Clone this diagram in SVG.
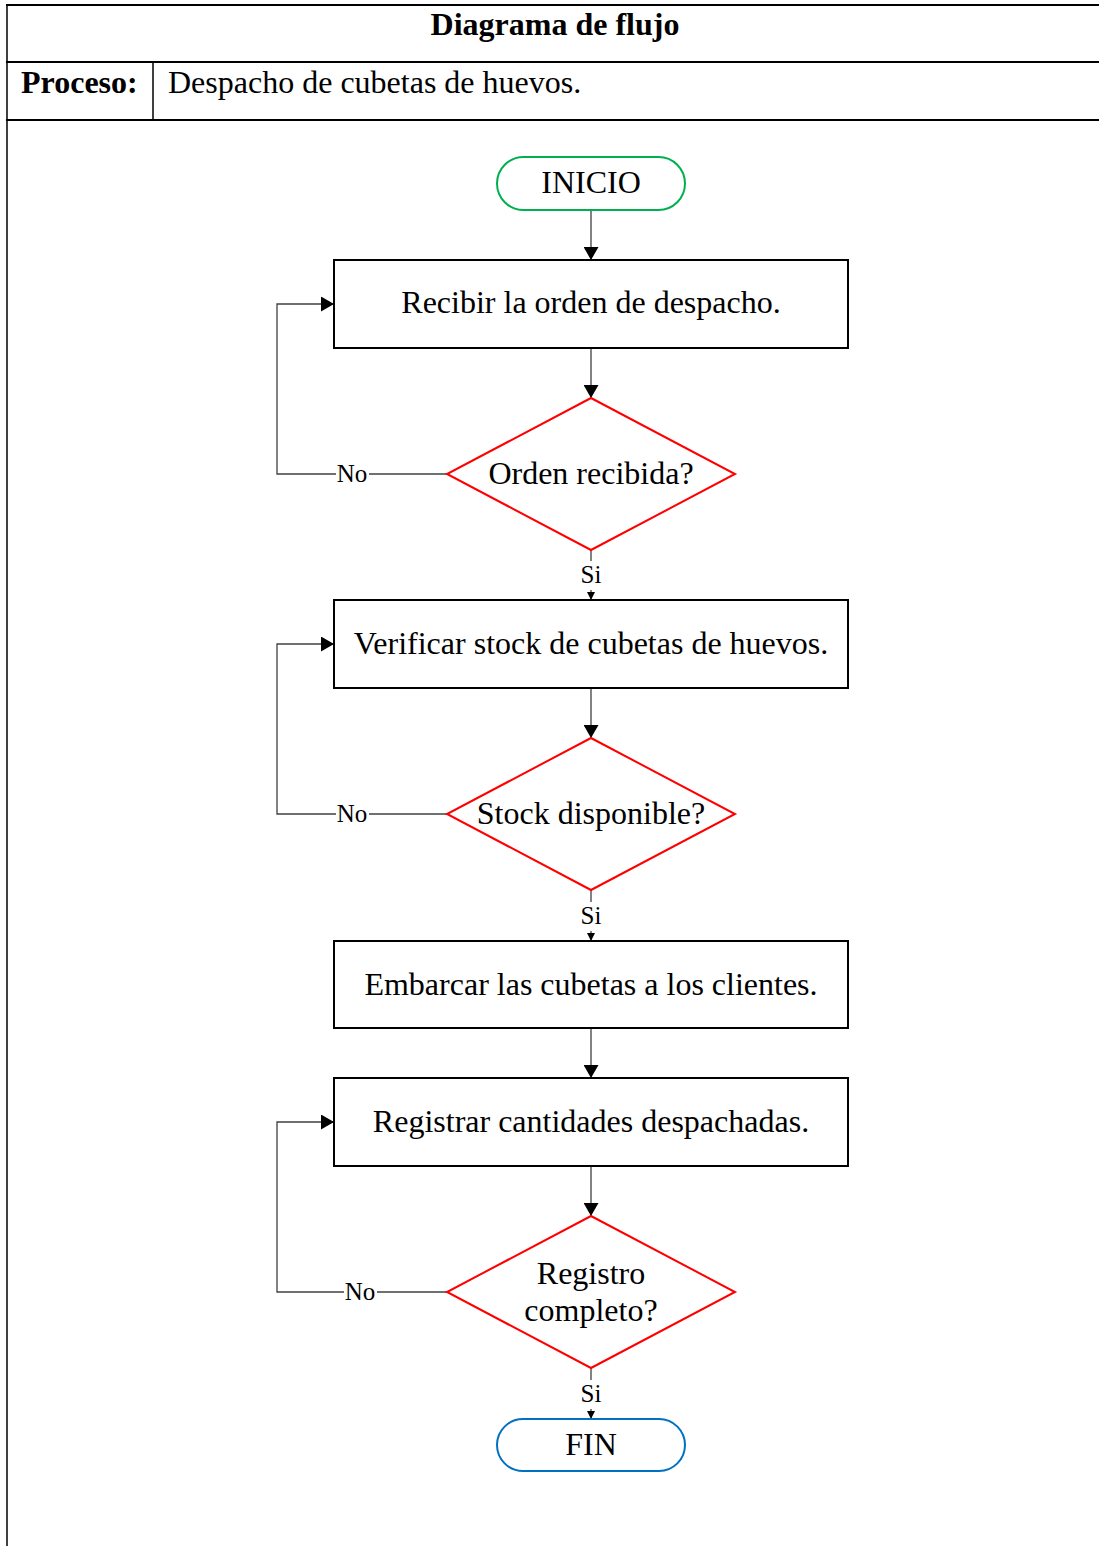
<svg xmlns="http://www.w3.org/2000/svg" width="1099" height="1546" viewBox="0 0 1099 1546">
<style>
.t{font-family:"Liberation Serif","Times New Roman",serif;fill:#000}
.b{font-size:32px;text-anchor:middle}
.h{font-size:32px;font-weight:bold}
.l{font-size:25px;text-anchor:middle}
.box{fill:#fff;stroke:#000;stroke-width:2}
.dia{fill:#fff;stroke:#ff0000;stroke-width:2}
.c{fill:none;stroke:#404040;stroke-width:1.3}
</style>
<defs>
<marker id="a" markerWidth="13" markerHeight="15" refX="13" refY="7.5" orient="auto" markerUnits="userSpaceOnUse"><path d="M0,0 L13,7.5 L0,15 Z" fill="#000"/></marker>
<marker id="s" markerWidth="8" markerHeight="8" refX="8" refY="4" orient="auto" markerUnits="userSpaceOnUse"><path d="M0,0 L8,4 L0,8 Z" fill="#000"/></marker>
</defs>
<rect width="1099" height="1546" fill="#fff"/>
<g id="frame">
<line x1="6" y1="5" x2="1099" y2="5" stroke="#000" stroke-width="2"/>
<line x1="6" y1="62" x2="1099" y2="62" stroke="#000" stroke-width="2"/>
<line x1="6" y1="120" x2="1099" y2="120" stroke="#000" stroke-width="2"/>
<line x1="7" y1="4" x2="7" y2="1546" stroke="#000" stroke-width="1.5"/>
<line x1="153" y1="62" x2="153" y2="120" stroke="#000" stroke-width="1.5"/>
<text class="t h" x="555" y="35" text-anchor="middle">Diagrama de flujo</text>
<text class="t h" x="21" y="93">Proceso:</text>
<text class="t" x="168" y="93" font-size="32">Despacho de cubetas de huevos.</text>
</g>
<g id="connectors">
<line class="c" x1="591" y1="210" x2="591" y2="260" marker-end="url(#a)"/>
<line class="c" x1="591" y1="348" x2="591" y2="398" marker-end="url(#a)"/>
<line class="c" x1="591" y1="550" x2="591" y2="561"/>
<line class="c" x1="591" y1="590" x2="591" y2="600" marker-end="url(#s)"/>
<line class="c" x1="591" y1="688" x2="591" y2="738" marker-end="url(#a)"/>
<line class="c" x1="591" y1="890" x2="591" y2="902"/>
<line class="c" x1="591" y1="931" x2="591" y2="941" marker-end="url(#s)"/>
<line class="c" x1="591" y1="1028" x2="591" y2="1078" marker-end="url(#a)"/>
<line class="c" x1="591" y1="1166" x2="591" y2="1216" marker-end="url(#a)"/>
<line class="c" x1="591" y1="1368" x2="591" y2="1380"/>
<line class="c" x1="591" y1="1409" x2="591" y2="1419" marker-end="url(#s)"/>
<polyline class="c" points="447,474 369,474"/>
<polyline class="c" points="336,474 277,474 277,304 334,304" marker-end="url(#a)"/>
<polyline class="c" points="447,814 369,814"/>
<polyline class="c" points="336,814 277,814 277,644 334,644" marker-end="url(#a)"/>
<polyline class="c" points="447,1292 377,1292"/>
<polyline class="c" points="344,1292 277,1292 277,1122 334,1122" marker-end="url(#a)"/>
<text class="t l" x="352" y="482">No</text>
<text class="t l" x="352" y="822">No</text>
<text class="t l" x="360" y="1300">No</text>
<text class="t l" x="591" y="583">Si</text>
<text class="t l" x="591" y="924">Si</text>
<text class="t l" x="591" y="1402">Si</text>
</g>
<g id="inicio">
<rect x="497" y="157" width="188" height="53" rx="26.5" fill="#fff" stroke="#00b050" stroke-width="2"/>
<text class="t b" x="591" y="193">INICIO</text>
</g>
<g id="recibir">
<rect class="box" x="334" y="260" width="514" height="88"/>
<text class="t b" x="591" y="313">Recibir la orden de despacho.</text>
</g>
<g id="orden-recibida">
<polygon class="dia" points="591,398 735,474 591,550 447,474"/>
<text class="t b" x="591" y="484">Orden recibida?</text>
</g>
<g id="verificar">
<rect class="box" x="334" y="600" width="514" height="88"/>
<text class="t b" x="591" y="654">Verificar stock de cubetas de huevos.</text>
</g>
<g id="stock-disponible">
<polygon class="dia" points="591,738 735,814 591,890 447,814"/>
<text class="t b" x="591" y="824">Stock disponible?</text>
</g>
<g id="embarcar">
<rect class="box" x="334" y="941" width="514" height="87"/>
<text class="t b" x="591" y="995">Embarcar las cubetas a los clientes.</text>
</g>
<g id="registrar">
<rect class="box" x="334" y="1078" width="514" height="88"/>
<text class="t b" x="591" y="1132">Registrar cantidades despachadas.</text>
</g>
<g id="registro-completo">
<polygon class="dia" points="591,1216 735,1292 591,1368 447,1292"/>
<text class="t b" x="591" y="1284">Registro</text>
<text class="t b" x="591" y="1321">completo?</text>
</g>
<g id="fin">
<rect x="497" y="1419" width="188" height="52" rx="26" fill="#fff" stroke="#0070c0" stroke-width="2"/>
<text class="t b" x="591" y="1455">FIN</text>
</g>
</svg>
